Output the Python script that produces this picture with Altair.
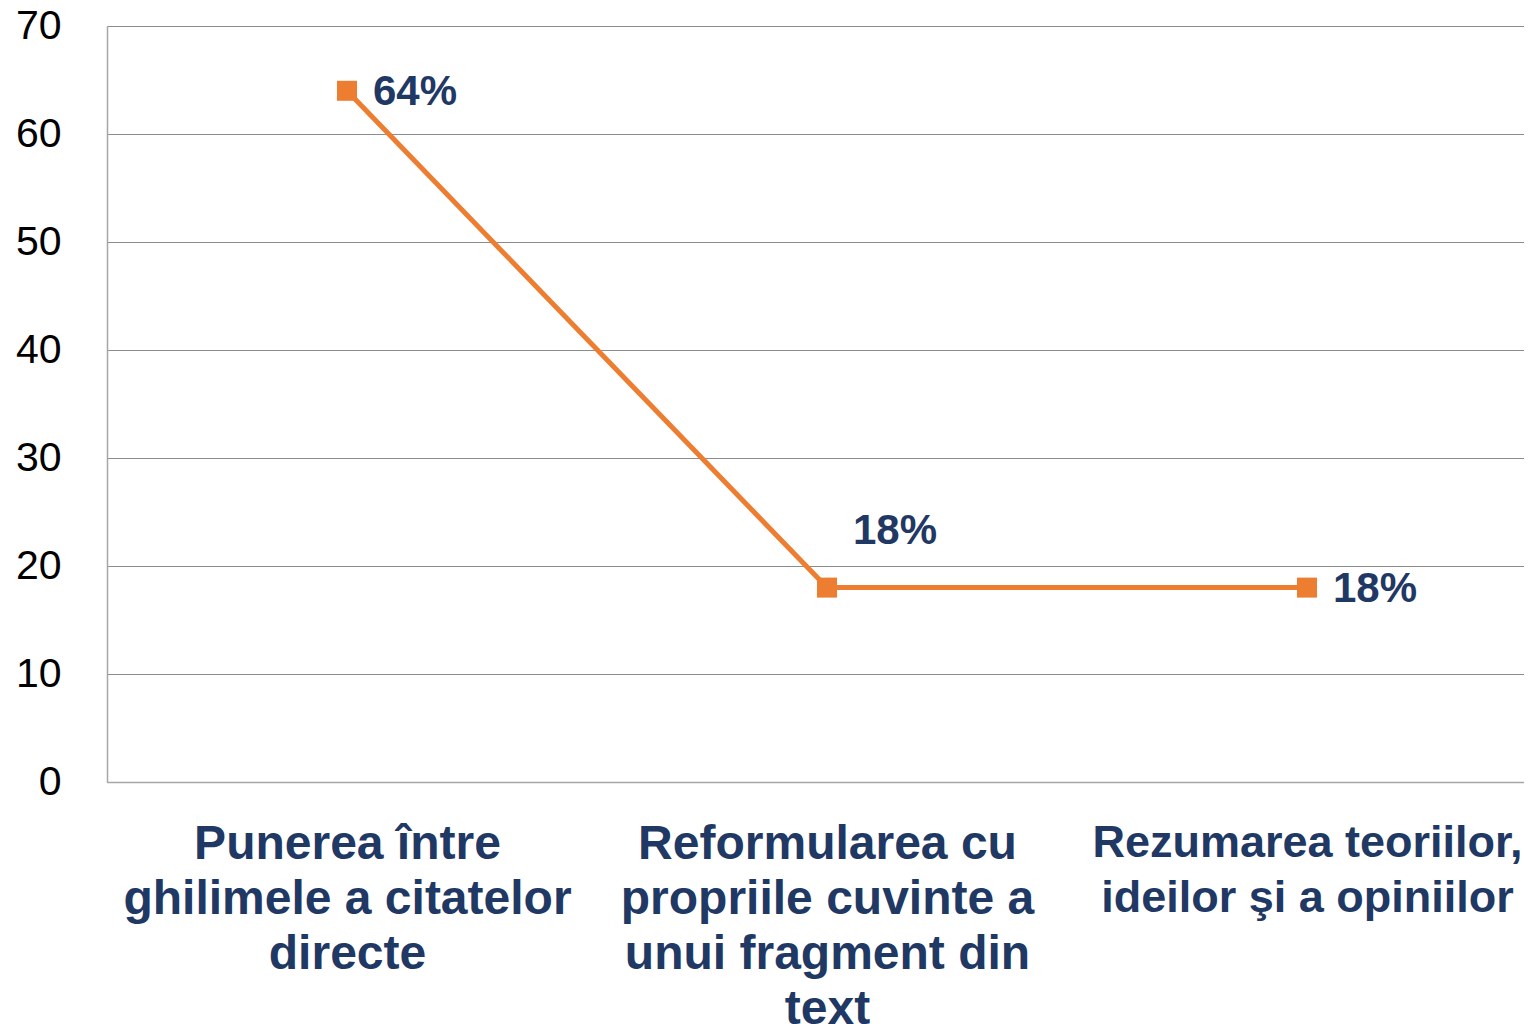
import altair as alt
import pandas as pd

categories = [
    "Punerea între\nghilimele a citatelor\ndirecte",
    "Reformularea cu\npropriile cuvinte a\nunui fragment din\ntext",
    "Rezumarea teoriilor,\nideilor şi a opiniilor",
]
values = [64, 18, 18]
y_ticks = [0, 10, 20, 30, 40, 50, 60, 70]

df = pd.DataFrame({"cat": categories, "val": values, "idx": list(range(len(categories)))})

ORANGE = "#ED7D31"
NAVY = "#1F3864"

x_enc = alt.X(
    "cat:N",
    sort=None,
    scale=alt.Scale(type="point", padding=0.5, range=[0, 1440]),
    axis=alt.Axis(
        title=None,
        labelAngle=0,
        labelExpr="split(datum.label, '\\n')",
        labelFont="Liberation Sans",
        labelFontWeight="bold",
        labelFontSize={
            "condition": {"test": "indexof(datum.value, 'Rezumarea') == 0", "value": 45},
            "value": 48,
        },
        labelColor=NAVY,
        labelLineHeight=55,
        labelPadding=38,
        labelLimit=2000,
        labelOverlap=False,
        ticks=False,
        grid=False,
        domainColor="#A6A6A6",
        domainWidth=1.5,
    ),
)
y_enc = alt.Y(
    "val:Q",
    scale=alt.Scale(domain=[0, 70]),
    axis=alt.Axis(
        title=None,
        values=y_ticks,
        labelFont="Liberation Sans",
        labelFontSize=41,
        labelColor="#000000",
        labelPadding=46,
        ticks=False,
        gridColor="#8C8C8C",
        gridWidth=1.2,
        domainColor="#A6A6A6",
        domainWidth=1.5,
    ),
)

base = alt.Chart(df).encode(x=x_enc, y=y_enc)

line = base.mark_line(color=ORANGE, strokeWidth=5)
points = base.mark_point(shape="square", filled=True, size=400, color=ORANGE, opacity=1)

txt = base.transform_calculate(lab="datum.val + '%'")
labels_right = txt.transform_filter("datum.idx != 1").mark_text(
    align="left", baseline="middle", dx=26, dy=1,
    font="Liberation Sans", fontWeight="bold", fontSize=42, color=NAVY,
).encode(text="lab:N")
labels_up = txt.transform_filter("datum.idx == 1").mark_text(
    align="left", baseline="middle", dx=26, dy=-57,
    font="Liberation Sans", fontWeight="bold", fontSize=42, color=NAVY,
).encode(text="lab:N")

chart = (
    alt.layer(line, points, labels_right, labels_up)
    .properties(
        width=1417,
        height=756,
        autosize=alt.AutoSizeParams(type="none"),
        padding={"left": 99, "top": 18, "right": 0, "bottom": 250},
    )
    .configure_view(stroke=None)
    .configure(background="white")
)

chart.save("out.html", embed_options={"renderer": "svg", "actions": False})
